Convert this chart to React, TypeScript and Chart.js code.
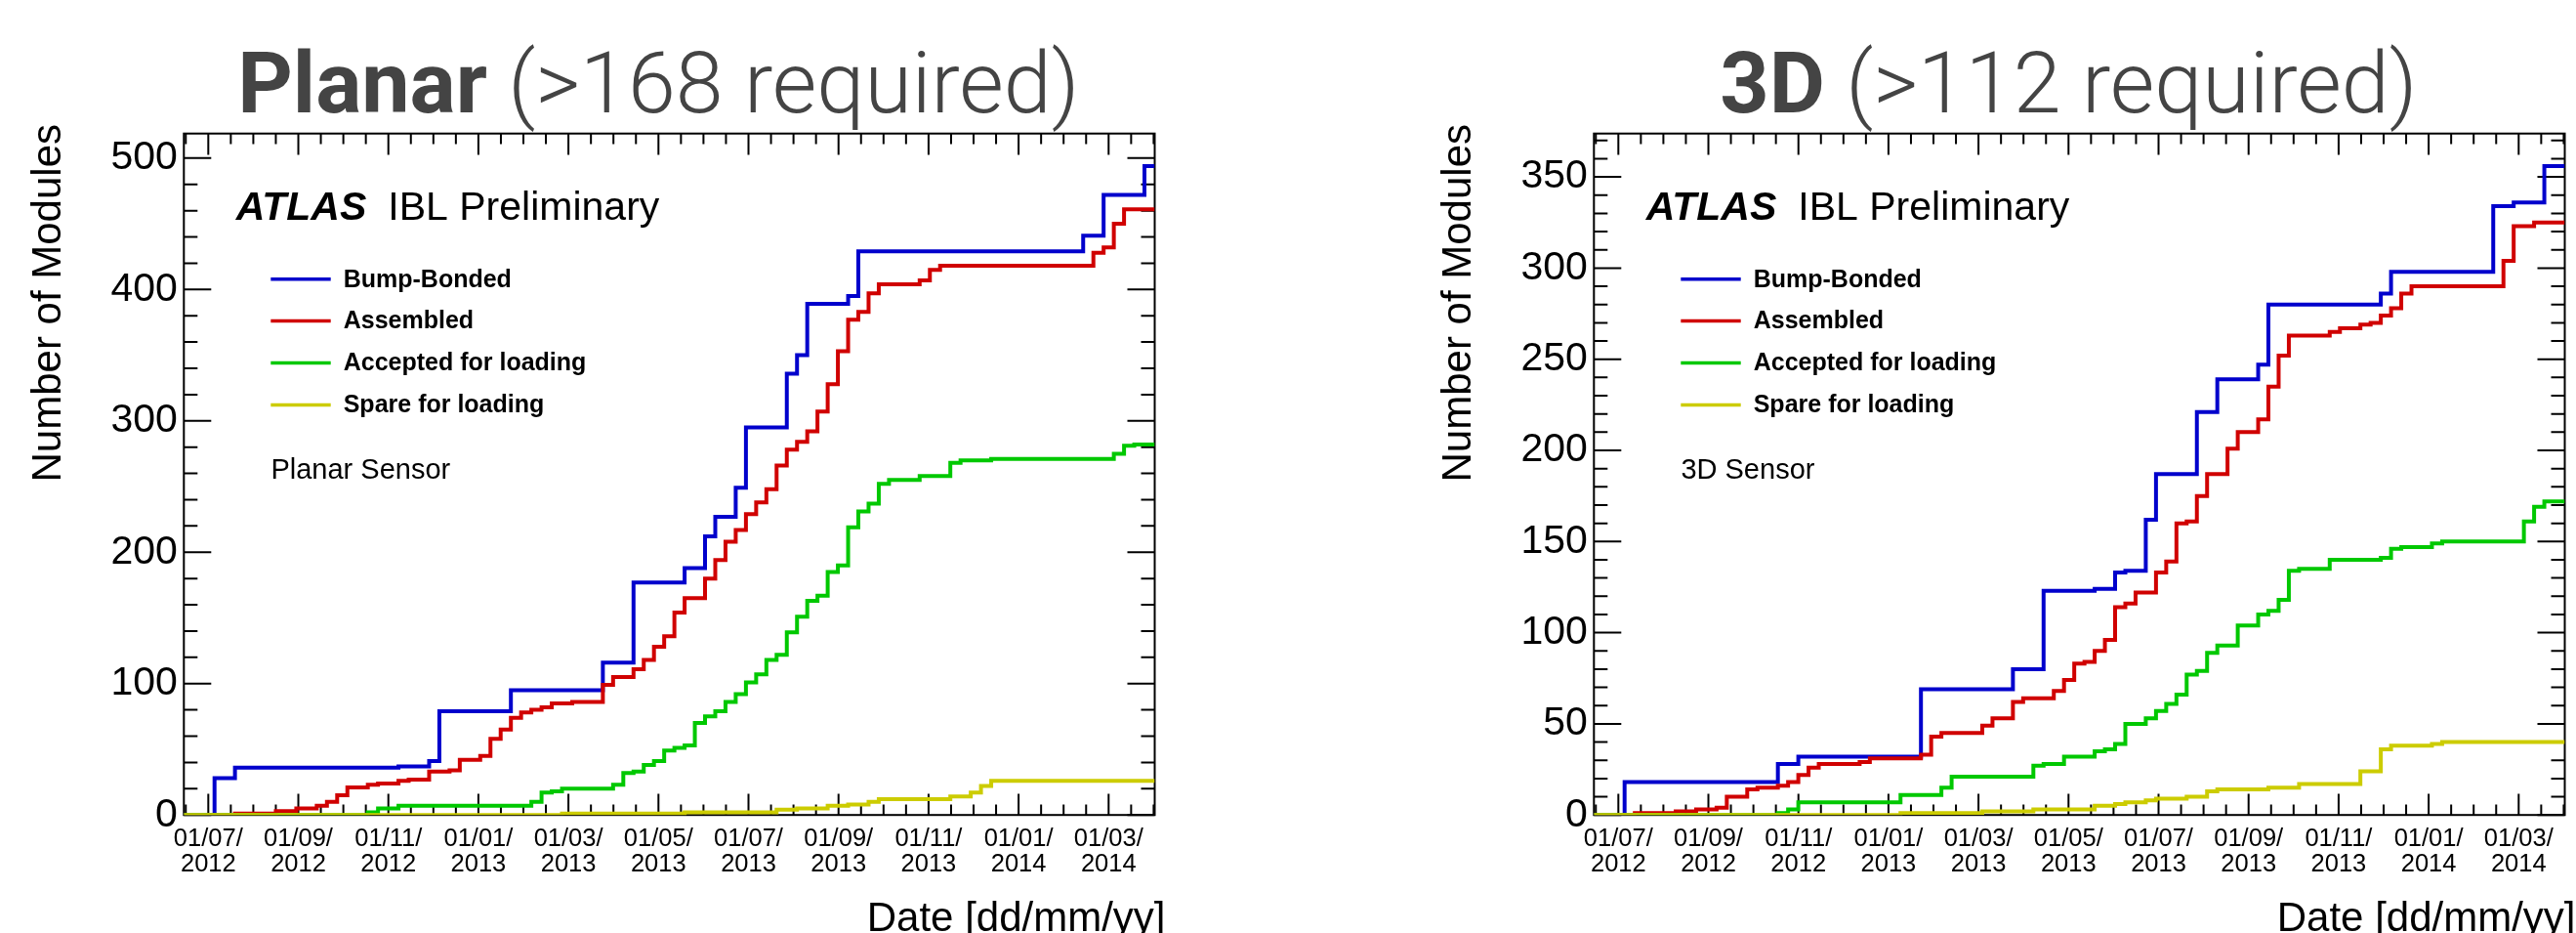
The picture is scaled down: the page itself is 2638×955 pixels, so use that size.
import React, { useEffect, useRef } from "react";
import { Chart, registerables } from "chart.js";

Chart.register(...registerables);

// ---------- axis definitions ----------
// x axis: weekly bins (bin index), 95 bins over the frame
const X_BINS = 95;
const xTickPositions = [2.39, 11.2, 20.01, 28.82, 37.63, 46.44, 55.25, 64.06, 72.87, 81.68, 90.49];
const xTickLabels = [
  ["01/07/", "2012"], ["01/09/", "2012"], ["01/11/", "2012"], ["01/01/", "2013"],
  ["01/03/", "2013"], ["01/05/", "2013"], ["01/07/", "2013"], ["01/09/", "2013"],
  ["01/11/", "2013"], ["01/01/", "2014"], ["01/03/", "2014"],
];
const planarYTicks = [0, 100, 200, 300, 400, 500];
const threeDYTicks = [0, 50, 100, 150, 200, 250, 300, 350];

const seriesNames = ["Bump-Bonded", "Assembled", "Accepted for loading", "Spare for loading"];

// ---------- Planar data (week of step, cumulative count) ----------
const planarBumpWeeks = [0, 3, 5, 21, 24, 25, 32, 41, 44, 49, 51, 52, 54, 55, 59, 60, 61, 65, 66, 88, 90, 94];
const planarBumpCounts = [0, 28, 36, 37, 41, 79, 95, 116, 177, 188, 212, 227, 249, 295, 336, 350, 389, 395, 429, 441, 472, 494];

const planarAssembledWeeks = [0, 5, 9, 11, 13, 14, 15, 16, 18, 19, 21, 22, 24, 26, 27, 29, 30, 31, 32, 33, 34, 35, 36, 38, 41, 42, 44, 45, 46, 47, 48, 49, 51, 52, 53, 54, 55, 56, 57, 58, 59, 60, 61, 62, 63, 64, 65, 66, 67, 68, 72, 73, 74, 89, 90, 91, 92];
const planarAssembledCounts = [0, 1, 3, 5, 7, 10, 15, 21, 23, 24, 26, 27, 33, 34, 42, 45, 58, 65, 74, 78, 80, 82, 85, 86, 99, 105, 111, 118, 128, 136, 154, 165, 180, 194, 208, 217, 229, 238, 248, 266, 278, 284, 292, 307, 328, 353, 377, 383, 397, 404, 407, 415, 418, 428, 432, 450, 461];

const planarAcceptedWeeks = [0, 18, 19, 21, 34, 35, 36, 37, 42, 43, 44, 45, 46, 47, 48, 49, 50, 51, 52, 53, 54, 55, 56, 57, 58, 59, 60, 61, 62, 63, 64, 65, 66, 67, 68, 69, 72, 75, 76, 79, 91, 92, 93];
const planarAcceptedCounts = [0, 2, 5, 7, 10, 17, 18, 20, 23, 32, 33, 38, 41, 49, 51, 53, 70, 75, 79, 86, 92, 101, 107, 118, 122, 139, 151, 163, 167, 185, 190, 219, 231, 237, 252, 255, 258, 268, 270, 271, 275, 281, 282];

const planarSpareWeeks = [0, 37, 49, 58, 60, 63, 65, 67, 68, 75, 77, 78, 79];
const planarSpareCounts = [0, 1, 2, 4, 5, 7, 8, 10, 12, 14, 17, 22, 26];

// ---------- 3D data ----------
const threeDBumpWeeks = [0, 3, 18, 20, 32, 41, 44, 49, 51, 52, 54, 55, 59, 61, 65, 66, 77, 78, 88, 90, 93];
const threeDBumpCounts = [0, 18, 28, 32, 69, 80, 123, 124, 133, 134, 162, 187, 221, 239, 247, 280, 286, 298, 334, 336, 356];

const threeDAssembledWeeks = [0, 4, 8, 10, 12, 13, 15, 16, 18, 19, 20, 21, 22, 26, 27, 32, 33, 34, 38, 39, 41, 42, 45, 46, 47, 48, 49, 50, 51, 52, 53, 55, 56, 57, 58, 59, 60, 62, 63, 65, 66, 67, 68, 72, 73, 75, 76, 77, 78, 79, 80, 89, 90, 92];
const threeDAssembledCounts = [0, 1, 2, 3, 4, 10, 14, 15, 16, 18, 22, 26, 28, 29, 31, 33, 43, 45, 49, 53, 62, 64, 68, 74, 83, 84, 90, 96, 114, 116, 122, 133, 139, 160, 161, 175, 187, 201, 210, 217, 235, 252, 263, 265, 267, 269, 270, 274, 278, 286, 290, 304, 323, 325];

const threeDAcceptedWeeks = [0, 18, 19, 20, 30, 34, 35, 43, 44, 46, 49, 50, 51, 52, 54, 55, 56, 57, 58, 59, 60, 61, 63, 65, 66, 67, 68, 69, 72, 77, 78, 79, 82, 83, 91, 92, 93];
const threeDAcceptedCounts = [0, 1, 3, 7, 11, 15, 21, 27, 28, 32, 35, 36, 39, 50, 53, 57, 61, 66, 77, 79, 89, 93, 104, 110, 112, 118, 134, 135, 140, 141, 146, 147, 149, 150, 161, 169, 172];

const threeDSpareWeeks = [0, 30, 38, 43, 49, 51, 52, 54, 55, 58, 60, 61, 66, 69, 75, 77, 78, 82, 83];
const threeDSpareCounts = [0, 1, 2, 3, 5, 6, 7, 8, 9, 10, 13, 14, 15, 17, 24, 36, 38, 39, 40];

// ---------- styles / layout ----------
const COLORS = ["#0000cc", "#d00000", "#00c800", "#cccc00"];
const FONT = '"Liberation Sans", Arial, Helvetica, sans-serif';
const TITLE_FONT = 'Roboto, "Liberation Sans", sans-serif';
const H = 955;
const FRAME = { left: 188.3, top: 136.7, right: 1182.5, bottom: 834.2 };

type Spec = {
  left: number;
  width: number;
  titleBold: string;
  titleLight: string;
  sensor: string;
  yMax: number;
  yTicks: number[];
  yMinor: number;
  series: { weeks: number[]; counts: number[] }[];
};

const panels: Spec[] = [
  {
    left: 0,
    width: 1444,
    titleBold: "Planar",
    titleLight: " (>168 required)",
    sensor: "Planar Sensor",
    yMax: 518.7,
    yTicks: planarYTicks,
    yMinor: 20,
    series: [
      { weeks: planarBumpWeeks, counts: planarBumpCounts },
      { weeks: planarAssembledWeeks, counts: planarAssembledCounts },
      { weeks: planarAcceptedWeeks, counts: planarAcceptedCounts },
      { weeks: planarSpareWeeks, counts: planarSpareCounts },
    ],
  },
  {
    left: 1444,
    width: 1194,
    titleBold: "3D",
    titleLight: " (>112 required)",
    sensor: "3D Sensor",
    yMax: 373.8,
    yTicks: threeDYTicks,
    yMinor: 10,
    series: [
      { weeks: threeDBumpWeeks, counts: threeDBumpCounts },
      { weeks: threeDAssembledWeeks, counts: threeDAssembledCounts },
      { weeks: threeDAcceptedWeeks, counts: threeDAcceptedCounts },
      { weeks: threeDSpareWeeks, counts: threeDSpareCounts },
    ],
  },
];

const rootStyle = {
  id: "rootStyle",
  beforeDatasetsDraw(chart: any, _args: any, opts: any) {
    const { ctx, chartArea: a } = chart;
    const xs = chart.scales.x;
    const ys = chart.scales.y;
    ctx.save();
    ctx.strokeStyle = "#000";
    ctx.lineWidth = 2;
    ctx.strokeRect(a.left, a.top, a.right - a.left, a.bottom - a.top);
    // x ticks (major + 3 minor between), on bottom and top
    const step = (xTickPositions[1] - xTickPositions[0]) / 4;
    ctx.beginPath();
    for (let i = -4; i < 200; i++) {
      const v = xTickPositions[0] + i * step;
      if (v > xs.max) break;
      if (v < xs.min) continue;
      const len = i % 4 === 0 ? 21.7 : 10.7;
      const px = xs.getPixelForValue(v);
      ctx.moveTo(px, a.bottom);
      ctx.lineTo(px, a.bottom - len);
      ctx.moveTo(px, a.top);
      ctx.lineTo(px, a.top + len);
    }
    // y ticks on left and right
    const major = opts.yTicks[1] - opts.yTicks[0];
    for (let v = 0; v <= ys.max + 1e-6; v += opts.yMinor) {
      const len = Math.abs(v % major) < 1e-6 ? 28 : 14;
      const py = ys.getPixelForValue(v);
      ctx.moveTo(a.left, py);
      ctx.lineTo(a.left + len, py);
      ctx.moveTo(a.right, py);
      ctx.lineTo(a.right - len, py);
    }
    ctx.stroke();
    ctx.restore();
  },
  afterDraw(chart: any, _args: any, opts: any) {
    const { ctx, chartArea: a } = chart;
    ctx.save();
    // Title
    ctx.fillStyle = "#444444";
    ctx.textBaseline = "alphabetic";
    ctx.textAlign = "left";
    const bold = `bold 88px ${TITLE_FONT}`;
    const light = `300 88px ${TITLE_FONT}`;
    ctx.font = bold;
    const w1 = ctx.measureText(opts.titleBold).width;
    ctx.font = light;
    const w2 = ctx.measureText(opts.titleLight).width;
    const x0 = a.left + 486 - (w1 + w2) / 2;
    ctx.font = bold;
    ctx.fillText(opts.titleBold, x0, 115);
    ctx.font = light;
    ctx.fillText(opts.titleLight, x0 + w1, 115);

    // ATLAS label
    ctx.fillStyle = "#000";
    ctx.font = `italic bold 41px ${FONT}`;
    const ax = a.left + 53.4;
    const ay = a.top + 88.3;
    ctx.fillText("ATLAS", ax, ay);
    const wa = ctx.measureText("ATLAS").width;
    ctx.font = `41px ${FONT}`;
    ctx.fillText("IBL Preliminary", ax + wa + 22, ay);

    // Legend
    const ds = chart.data.datasets;
    ctx.textBaseline = "middle";
    ctx.font = `bold 25px ${FONT}`;
    for (let i = 0; i < ds.length; i++) {
      const y = a.top + 149 + i * 42.9;
      ctx.strokeStyle = ds[i].borderColor;
      ctx.lineWidth = 3.5;
      ctx.beginPath();
      ctx.moveTo(a.left + 89, y);
      ctx.lineTo(a.left + 150.4, y);
      ctx.stroke();
      ctx.fillStyle = "#000";
      ctx.fillText(ds[i].label, a.left + 163.4, y + 1);
    }

    // Sensor label
    ctx.textBaseline = "alphabetic";
    ctx.font = `29px ${FONT}`;
    ctx.fillText(opts.sensor, a.left + 89.1, a.top + 353.3);

    // Axis titles
    ctx.font = `42px ${FONT}`;
    ctx.textAlign = "right";
    ctx.fillText("Date [dd/mm/yy]", a.right + 11, 953);
    ctx.save();
    ctx.translate(a.left - 126.3, a.top - 9.7);
    ctx.rotate(-Math.PI / 2);
    ctx.textAlign = "right";
    ctx.fillText("Number of Modules", 0, 0);
    ctx.restore();
    ctx.restore();
  },
};

function Panel({ spec }: { spec: Spec }) {
  const ref = useRef<HTMLCanvasElement>(null);
  useEffect(() => {
    const canvas = ref.current;
    if (!canvas) return;
    const datasets = spec.series.map((s, i) => ({
      label: seriesNames[i],
      data: [
        ...s.weeks.map((w, j) => ({ x: w, y: s.counts[j] })),
        { x: X_BINS, y: s.counts[s.counts.length - 1] },
      ],
      borderColor: COLORS[i],
      backgroundColor: COLORS[i],
      borderWidth: 4,
      pointRadius: 0,
      pointHoverRadius: 0,
      stepped: true,
      fill: false,
      tension: 0,
      order: 4 - i,
    }));
    const chart = new Chart(canvas, {
      type: "line",
      data: { datasets } as any,
      options: {
        animation: false,
        responsive: false,
        devicePixelRatio: 1,
        events: [],
        layout: { padding: { left: 0, top: FRAME.top, right: spec.width - FRAME.right, bottom: 0 } },
        plugins: {
          legend: { display: false },
          tooltip: { enabled: false },
          title: { display: false },
          rootStyle: spec,
        } as any,
        scales: {
          x: {
            type: "linear",
            min: 0,
            max: X_BINS,
            grid: { display: false, drawTicks: false },
            border: { display: false },
            afterFit: (s: any) => {
              s.height = H - FRAME.bottom;
            },
            afterBuildTicks: (s: any) => {
              s.ticks = xTickPositions.map((v) => ({ value: v }));
            },
            ticks: {
              autoSkip: false,
              maxRotation: 0,
              minRotation: 0,
              padding: 12,
              color: "#000",
              font: { family: FONT, size: 25.5, lineHeight: 1.02 },
              callback: (_v: any, i: number) => xTickLabels[i],
            },
          },
          y: {
            type: "linear",
            min: 0,
            max: spec.yMax,
            grid: { display: false, drawTicks: false },
            border: { display: false },
            afterFit: (s: any) => {
              s.width = FRAME.left;
            },
            afterBuildTicks: (s: any) => {
              s.ticks = spec.yTicks.map((v) => ({ value: v }));
            },
            ticks: {
              padding: 6.5,
              color: "#000",
              font: { family: FONT, size: 41 },
              callback: (v: any) => String(v),
            },
          },
        } as any,
      },
      plugins: [rootStyle],
    });
    return () => chart.destroy();
  }, [spec]);
  return (
    <canvas
      ref={ref}
      width={spec.width}
      height={H}
      style={{ position: "absolute", left: spec.left, top: 0, width: spec.width, height: H }}
    />
  );
}

export default function App() {
  return (
    <div style={{ position: "fixed", left: 0, top: 0, width: 2638, height: H, background: "#fff", overflow: "hidden" }}>
      {panels.map((p, i) => (
        <Panel key={i} spec={p} />
      ))}
    </div>
  );
}
